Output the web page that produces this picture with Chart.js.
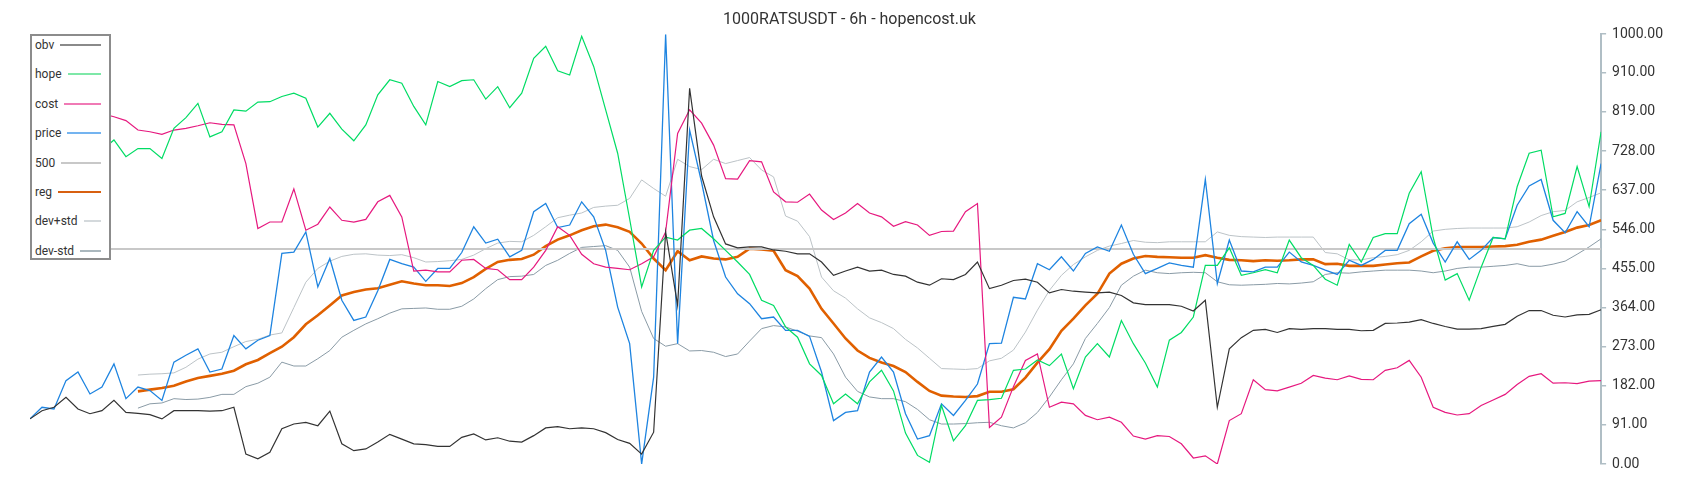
<!DOCTYPE html>
<html lang="en">
<head>
<meta charset="UTF-8">
<title>1000RATSUSDT - 6h - hopencost.uk</title>
<script src="https://cdn.jsdelivr.net/npm/chart.js@4.4.0/dist/chart.umd.min.js"></script>
<style>
  body { margin: 0; background: #fff; font-family: Roboto, sans-serif; }
  #wrap { position: relative; width: 1700px; height: 500px; }
  #legend { position: absolute; left: 30px; top: 34px; width: 81px; height: 226px; box-sizing: border-box;
            border: 2px solid #8c8c8c; background: #fff; }
  .item { position: absolute; left: 3px; right: 8px; height: 16px; display: flex; align-items: center;
          font-size: 12px; color: #333; white-space: nowrap; }
  .item .sw { flex: 1; height: 2px; margin-left: 6px; }
</style>
</head>
<body>
<div id="wrap">
  <canvas id="chart" width="1700" height="500"></canvas>
  <div id="legend"></div>
</div>
<script>
// values, one sample every ~12px
var price = [105,132,128,194,214,163,179,233,152,179, 171,148,237,253,268,214,221,299,268,288,
  299,490,493,540,412,478,381,334,342,403, 476,466,458,425,455,455,492,552,514,523,
  482,497,587,606,550,556,610,575,497,365, 280,0,202,1000,280,777,655,520,435,396,
  373,338,342,311,311,297,214,101,120,124, 214,249,214,117,58,66,140,113,148,186,
  280,281,388,384,466,452,482,449,490,505, 495,556,488,443,455,468,462,458,662,420,
  521,449,447,458,458,493,470,462,451,441, 474,462,476,497,497,559,581,514,470,517,
  476,497,527,524,602,647,662,567,538,587, 552,699];

var obv = [105,124,132,155,128,117,124,148,120,118, 115,105,124,124,124,123,124,132,23,12,
  27,82,93,97,89,123,47,31,35,51, 69,58,47,45,41,41,62,70,56,61,
  53,51,66,84,87,82,84,82,73,57, 48,23,74,540,369,874,670,575,512,503,
  505,505,498,495,489,489,470,439,449,458, 449,451,441,437,423,416,431,429,441,470,
  408,416,427,430,423,398,406,402,400,398, 400,392,375,371,371,371,367,356,381,132,
  268,294,311,313,306,315,313,315,315,313, 313,310,311,327,328,330,336,327,320,314,
  314,315,320,325,344,357,357,346,342,347, 348,359];

var hope = [760,745,770,735,720,750,730,754,715,734, 734,711,781,806,839,761,773,824,821,842,
  843,855,863,851,784,816,779,752,789,859, 894,886,832,789,890,878,892,894,849,878,
  829,863,944,972,915,905,995,925,824,723, 570,412,497,528,521,544,548,524,497,470,
  441,381,369,319,295,233,206,140,163,140, 191,218,170,72,20,4,136,54,89,148,
  150,153,218,221,242,229,256,175,249,280, 249,334,280,235,179,288,306,342,462,462,
  503,439,445,452,445,521,480,462,430,416, 511,470,527,536,536,630,680,527,428,443,
  381,458,527,524,645,723,730,575,583,692, 599,773];

var cost = [790,800,812,805,798,808,815,808,799,777, 773,767,777,781,787,794,790,789,699,548,
  563,563,640,544,558,598,567,563,569,610, 625,575,449,451,447,447,474,476,455,452,
  429,429,458,497,552,532,488,466,458,455, 452,466,482,540,769,824,793,742,664,663,
  706,703,633,610,609,628,591,569,584,606, 584,575,553,564,556,532,541,542,587,606,
  85,109,180,241,256,132,144,140,113,103, 109,97,65,58,66,64,47,14,19,0,
  101,117,196,173,170,179,188,206,200,196, 205,197,196,218,224,241,202,132,120,114,
  117,136,149,162,185,204,210,188,189,187, 193,194];

// the band series start later
var bandStart = 9;
var reg = [169,173,177,182,192,200,205,210,217,232, 242,258,273,295,325,346,369,392,400,406,
  409,417,425,420,416,416,414,421,435,454, 470,475,477,487,507,522,532,544,553,557,
  551,540,513,478,451,495,474,483,478,476, 482,501,499,496,451,437,408,361,327,292,
  264,247,236,228,214,191,170,159,157,156, 158,168,168,174,201,236,267,310,338,369,
  396,443,466,478,484,482,481,480,480,486, 480,475,474,472,474,473,474,476,476,465,
  466,461,461,461,464,467,469,483,496,502, 505,505,505,506,507,510,517,522,531,540,
  550,556,567];

var devUp = [207,209,210,212,225,244,256,260,273,285, 290,300,305,364,423,455,472,483,488,489,
  486,485,487,480,470,471,473,476,486,501, 514,518,517,532,552,573,579,584,597,600,
  602,618,661,641,623,709,692,685,709,699, 706,713,684,668,577,565,529,435,403,386,
  361,340,329,315,290,270,246,222,221,220, 222,240,246,265,307,358,404,439,464,482,
  497,507,513,520,516,515,517,517,517,517, 540,532,529,528,527,528,528,528,528,492,
  489,475,475,480,483,487,497,517,542,546, 548,549,549,549,549,552,563,578,587,590,
  610,620,631];

var devDown = [130,140,142,152,150,151,155,162,162,180, 188,202,237,228,228,245,264,295,311,326,
  338,351,361,362,363,360,360,367,384,408, 429,436,437,441,462,474,490,504,506,508,
  497,458,355,292,274,280,263,264,260,250, 256,286,315,322,319,309,298,294,256,202,
  169,156,152,152,145,127,103,93,93,94, 96,97,89,84,96,120,156,196,233,292,
  327,364,416,437,451,445,443,445,446,445, 424,417,416,417,418,420,419,421,424,441,
  445,444,447,449,451,451,451,449,445,449, 455,458,458,460,462,466,460,460,465,472,
  488,505,524];

var level = 500;
var yTicks = [0, 91, 182, 273, 364, 455, 546, 637, 728, 819, 910, 1000];

var N = price.length;

function pts(arr, start) {
  start = start || 0;
  return arr.map(function (v, i) { return { x: start + i, y: v }; });
}

function line(label, data, color, width, swatch) {
  return {
    label: label, data: data, borderColor: color, backgroundColor: swatch,
    borderWidth: width, pointRadius: 0, tension: 0, fill: false
  };
}

var datasets = [
  line('obv', pts(obv), '#333333', 1.2, '#8a8a8a'),
  line('hope', pts(hope), '#00dc64', 1.2, '#7ee8a8'),
  line('cost', pts(cost), '#e6197f', 1.2, '#f07ab5'),
  line('price', pts(price), '#1e84e0', 1.3, '#74b4f0'),
  line('500', [{ x: 0, y: level }, { x: N - 1, y: level }], '#c8c8c8', 2, '#c8c8c8'),
  line('reg', pts(reg, bandStart), '#e06000', 2.6, '#d86010'),
  line('dev+std', pts(devUp, bandStart), '#bcc3c7', 1, '#d4d9dc'),
  line('dev-std', pts(devDown, bandStart), '#8a9ba6', 1, '#aab7bd')
];

new Chart(document.getElementById('chart'), {
  type: 'line',
  data: { datasets: datasets },
  options: {
    responsive: false,
    animation: false,
    devicePixelRatio: 1,
    layout: { padding: { left: 30, right: 31, top: 0, bottom: 36 } },
    plugins: {
      legend: { display: false },
      tooltip: { enabled: false },
      title: {
        display: true,
        text: '1000RATSUSDT - 6h - hopencost.uk',
        color: '#333',
        font: { family: 'Roboto', size: 16, weight: 'normal' },
        padding: { top: 10, bottom: 5 }
      }
    },
    scales: {
      x: { type: 'linear', min: 0, max: N - 1, display: false },
      y: {
        position: 'right',
        min: 0,
        max: 1000,
        afterBuildTicks: function (axis) {
          axis.ticks = yTicks.map(function (v) { return { value: v }; });
        },
        ticks: {
          color: '#333',
          padding: 6,
          font: { family: 'Roboto', size: 14 },
          callback: function (v) { return Number(v).toFixed(2); }
        },
        grid: { drawOnChartArea: false, tickLength: 5, color: '#b0bec5', lineWidth: 1.5 },
        border: { color: '#b0bec5', width: 2 }
      }
    }
  }
});

// legend box drawn over the top-left of the plot
var legend = document.getElementById('legend');
datasets.forEach(function (ds, k) {
  var item = document.createElement('div');
  item.className = 'item';
  item.style.top = (1 + k * 29.4) + 'px';
  item.innerHTML = '<span>' + ds.label + '</span><span class="sw" style="background:' + ds.backgroundColor + '"></span>';
  legend.appendChild(item);
});
</script>
</body>
</html>
